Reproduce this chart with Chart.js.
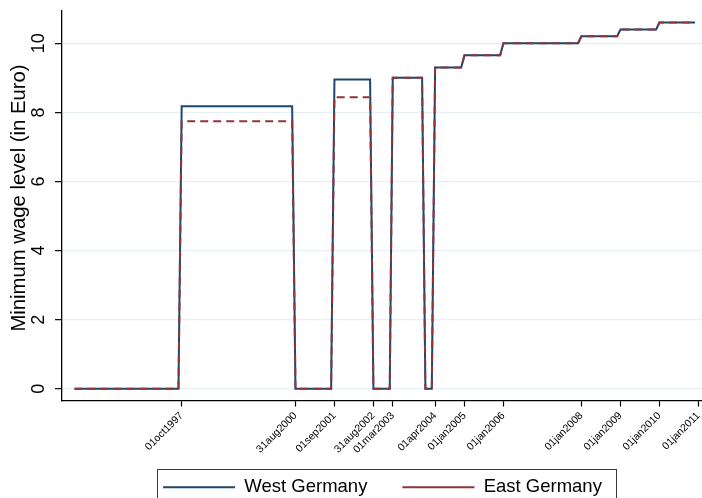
<!DOCTYPE html>
<html>
<head>
<meta charset="utf-8">
<script src="https://cdn.jsdelivr.net/npm/chart.js@4/dist/chart.umd.min.js"></script>
<style>
  html, body { margin: 0; padding: 0; background: #ffffff; }
  #wrap { width: 702px; height: 498px; }
</style>
</head>
<body>
<div id="wrap"><canvas id="c" width="702" height="498"></canvas></div>
<script>
// ---- data ----
const months = ['1995-01','1997-09','1997-10','2000-08','2000-09','2001-08','2001-09','2002-08',
                '2002-09','2003-02','2003-03','2003-12','2004-01','2004-03','2004-04','2004-12',
                '2005-01','2005-12','2006-01','2007-12','2008-01','2008-12','2009-01','2009-12',
                '2010-01','2010-12'];
const westGermany = [0, 0, 8.18, 8.18, 0, 0, 8.95, 8.95,
                     0, 0, 9.0, 9.0, 0, 0, 9.3, 9.3,
                     9.65, 9.65, 10.0, 10.0, 10.2, 10.2, 10.4, 10.4,
                     10.6, 10.6];
const eastGermany = [0, 0, 7.74, 7.74, 0, 0, 8.44, 8.44,
                     0, 0, 9.0, 9.0, 0, 0, 9.3, 9.3,
                     9.65, 9.65, 10.0, 10.0, 10.2, 10.2, 10.4, 10.4,
                     10.6, 10.6];
const xTickDates = ['1997-10-01','2000-08-31','2001-09-01','2002-08-31','2003-03-01','2004-04-01',
                    '2005-01-01','2006-01-01','2008-01-01','2009-01-01','2010-01-01','2011-01-01'];
const xTickLabels = ['01oct1997','31aug2000','01sep2001','31aug2002','01mar2003','01apr2004',
                     '01jan2005','01jan2006','01jan2008','01jan2009','01jan2010','01jan2011'];
const yTicks = [0, 2, 4, 6, 8, 10];
const seriesNames = ['West Germany', 'East Germany'];
const yTitle = 'Minimum wage level (in Euro)';

// ---- helpers ----
function monthToMs(s) { const [y, m] = s.split('-').map(Number); return Date.UTC(y, m - 1, 1); }
function dateToMs(s) { const [y, m, d] = s.split('-').map(Number); return Date.UTC(y, m - 1, d); }
const xTickValues = xTickDates.map(dateToMs);
const labelByValue = {};
xTickValues.forEach((v, i) => { labelByValue[v] = xTickLabels[i]; });

const FONT = "'Liberation Sans', Arial, Helvetica, sans-serif";

const extrasPlugin = {
  id: 'extras',
  afterLayout(chart) {
    // let the rotated x tick labels extend below the scale box (no clipping)
    chart.scales.x.bottom = chart.height;
    if (chart.legend) { chart.legend.left += 0.5; chart.legend.right += 0.5; }
  },
  afterDraw(chart) {
    const ctx = chart.ctx;
    const ys = chart.scales.y;
    ctx.save();
    ctx.fillStyle = '#000';
    ctx.textAlign = 'center';
    ctx.textBaseline = 'middle';
    // y tick labels, rotated as in Stata
    ctx.font = '18px ' + FONT;
    yTicks.forEach(v => {
      const py = ys.getPixelForValue(v);
      ctx.save();
      ctx.translate(39.5, py);
      ctx.rotate(-Math.PI / 2);
      ctx.fillText(String(v), 0, 0);
      ctx.restore();
    });
    // y axis title
    ctx.font = '20.3px ' + FONT;
    ctx.save();
    ctx.translate(19, 198);
    ctx.rotate(-Math.PI / 2);
    ctx.fillText(yTitle, 0, 0);
    ctx.restore();
    // legend frame
    const lg = chart.legend;
    if (lg && lg.legendHitBoxes && lg.legendHitBoxes.length) {
      const hb = lg.legendHitBoxes;
      const left = hb[0].left - 6;
      const right = hb[hb.length - 1].left + hb[hb.length - 1].width + 14;
      const top = hb[0].top - 9;
      ctx.strokeStyle = '#3a3a3a';
      ctx.lineWidth = 1;
      ctx.strokeRect(Math.round(left) + 0.5, Math.round(top) + 0.5, Math.round(right - left), 60);
    }
    ctx.restore();
  }
};

const chart = new Chart(document.getElementById('c'), {
  type: 'line',
  data: {
    datasets: [
      {
        label: seriesNames[0],
        data: months.map((m, i) => ({ x: monthToMs(m), y: westGermany[i] })),
        borderColor: 'rgb(26,71,111)',
        backgroundColor: 'rgb(26,71,111)',
        borderWidth: 2,
        pointRadius: 0,
        tension: 0,
        order: 1
      },
      {
        label: seriesNames[1],
        data: months.map((m, i) => ({ x: monthToMs(m), y: eastGermany[i] })),
        borderColor: 'rgb(144,53,59)',
        backgroundColor: 'rgb(144,53,59)',
        borderWidth: 2,
        borderDash: [8, 5],
        pointRadius: 0,
        tension: 0,
        order: 0
      }
    ]
  },
  options: {
    responsive: false,
    devicePixelRatio: 1,
    animation: false,
    layout: { padding: { top: 11, right: 0, left: 0, bottom: -8.5 } },
    plugins: {
      tooltip: { enabled: false },
      legend: {
        position: 'bottom',
        fullSize: false,
        labels: {
          usePointStyle: true,
          pointStyle: 'line',
          pointStyleWidth: 72,
          padding: 35,
          color: '#000',
          font: { family: FONT, size: 18.5 },
          sort: (a, b) => a.datasetIndex - b.datasetIndex
        }
      }
    },
    scales: {
      x: {
        type: 'linear',
        min: Date.UTC(1994, 8, 6),
        max: Date.UTC(2011, 1, 4),
        afterBuildTicks: (scale) => { scale.ticks = xTickValues.map(v => ({ value: v })); },
        afterFit: (scale) => { scale.height = 42.5; scale.paddingLeft = 0; scale.paddingRight = 0; },
        ticks: {
          autoSkip: false,
          minRotation: 45,
          maxRotation: 45,
          padding: 3,
          color: '#000',
          font: { family: FONT, size: 10.5 },
          callback: (v) => labelByValue[v] || ''
        },
        grid: { display: true, drawOnChartArea: false, drawTicks: true, tickLength: 6, tickColor: '#000', tickWidth: 1.2 },
        border: { display: true, color: '#000', width: 1.3 }
      },
      y: {
        min: -0.338,
        max: 10.934,
        afterBuildTicks: (scale) => { scale.ticks = yTicks.map(v => ({ value: v })); },
        afterFit: (scale) => { scale.width = 62; scale.paddingTop = 0; scale.paddingBottom = 0; },
        ticks: { display: false },
        grid: { color: '#e9f0f3', lineWidth: 1.3, drawTicks: true, tickLength: 7, tickColor: '#000', tickWidth: 1.2 },
        border: { display: true, color: '#000', width: 1.3 },
        title: { display: false, text: yTitle }
      }
    }
  },
  plugins: [extrasPlugin]
});
</script>
</body>
</html>
